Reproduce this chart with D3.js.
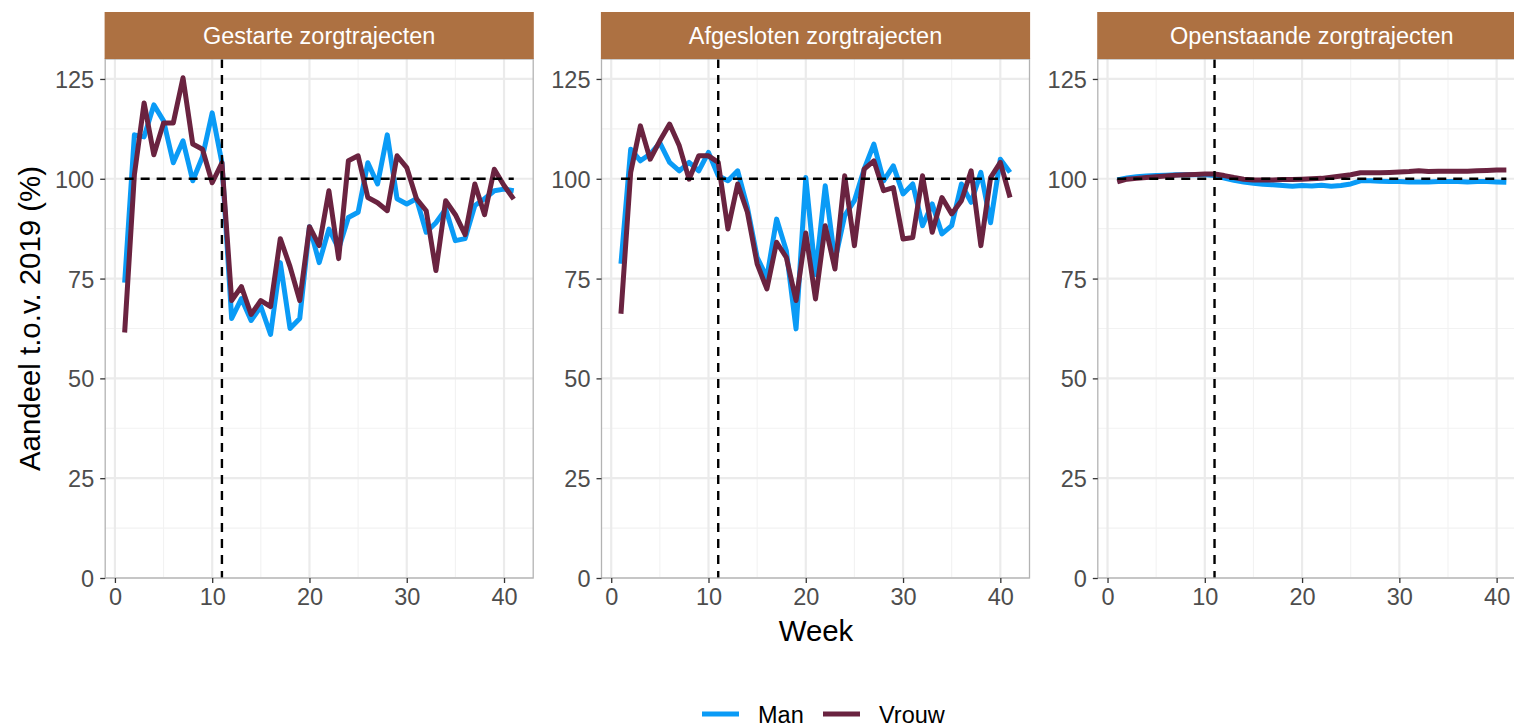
<!DOCTYPE html>
<html>
<head>
<meta charset="utf-8">
<script src="https://cdn.jsdelivr.net/npm/d3@7"></script>
<style>
  body { margin: 0; background: #fff; overflow: hidden; }
  svg { display: block; font-family: "Liberation Sans", Arial, sans-serif; }
</style>
</head>
<body>
<script>
// data
const weeks = [1,2,3,4,5,6,7,8,9,10,11,12,13,14,15,16,17,18,19,20,21,22,23,24,25,26,27,28,29,30,31,32,33,34,35,36,37,38,39,40,41];
const panelTitles = ["Gestarte zorgtrajecten", "Afgesloten zorgtrajecten", "Openstaande zorgtrajecten"];
const seriesNames = ["Man", "Vrouw"];
const yTicks = [0, 25, 50, 75, 100, 125];
const xTicks = [0, 10, 20, 30, 40];

const gestarteMan = [74,111,110.5,118.5,114.5,104,109.5,99.5,105.5,116.5,104,65,70,64.5,68,61,79,62.5,65,88,79,87.4,82.5,90.3,91.6,104,98.7,111,95,93.7,95,86.6,89,92.4,84.5,85,93.3,95,97,97.4,97];
const gestarteVrouw = [61.5,101,119,106,114,114,125.3,108.7,107.4,99,104,69.5,73,66,69.5,68,85,78,69.5,88,83.25,97,80,104.5,105.75,95.3,94,92,105.75,102.8,95,92,77,94.5,91,86,98.7,91,102.4,98.3,94.9];
const afgeslotenMan = [78.7,107.4,104.5,106.2,109,104.1,102,104.1,102,106.6,100.75,99.5,102,92.8,80.3,75.3,89.9,82,62.4,100.3,76,98.25,79.5,90.75,94.5,102.4,108.7,99.5,103.25,96.2,98.7,88.25,93.7,86.2,88.25,98.7,94.1,101.6,89,104.9,101.6];
const afgeslotenVrouw = [66.2,101.6,113.25,104.9,109.5,113.7,108.25,99.9,105.75,105.75,104.1,87.4,98.7,91.6,78.7,72.4,84.1,80.3,69.5,86.4,69.9,88.25,77.4,100.75,83.25,102.4,104.5,97,97.8,84.9,85.3,100.75,86.6,95.3,91.2,94.5,102,83.25,100.3,104.1,95.3];
const openstaandeMan = [99.7,100.2,100.5,100.7,100.8,100.9,101,101,101,101,100.8,100.2,99.6,99.2,98.9,98.6,98.5,98.3,98.1,98.3,98.2,98.4,98.1,98.3,98.7,99.5,99.5,99.4,99.3,99.3,99.2,99.2,99.2,99.3,99.3,99.3,99.2,99.3,99.3,99.2,99.1];
const openstaandeVrouw = [99.2,99.9,100.1,100.3,100.5,100.7,100.9,101,101.1,101.2,101.2,100.8,100.3,99.9,99.7,99.7,99.7,99.8,99.8,99.9,100,100.1,100.4,100.7,101,101.5,101.5,101.5,101.6,101.7,101.8,102,101.8,101.9,101.9,101.9,101.9,102,102.1,102.2,102.2];
const refWeek = 11;
const refValue = 100;

const panels = [
  { title: panelTitles[0], series: [gestarteMan, gestarteVrouw] },
  { title: panelTitles[1], series: [afgeslotenMan, afgeslotenVrouw] },
  { title: panelTitles[2], series: [openstaandeMan, openstaandeVrouw] }
];

const width = 1514, height = 726;
const colors = ["#0A9BF6", "#6A2340"];
const panelLeft = [105.2, 601.5, 1097.8];
const panelW = 428, panelTop = 59, panelBottom = 578, stripTop = 12;

const svg = d3.select("body").append("svg").attr("width", width).attr("height", height);

const y = d3.scaleLinear().domain([0, 130]).range([panelBottom, panelTop]);

panels.forEach(function (p, i) {
  const left = panelLeft[i];
  const x = d3.scaleLinear().domain([-1, 43]).range([left, left + panelW]);
  const g = svg.append("g");

  // grid
  const minorY = [12.5, 37.5, 62.5, 87.5, 112.5];
  const minorX = [5, 15, 25, 35];
  g.selectAll(".my").data(minorY).join("line")
    .attr("x1", left).attr("x2", left + panelW)
    .attr("y1", d => y(d)).attr("y2", d => y(d))
    .attr("stroke", "#F2F2F2").attr("stroke-width", 1.1);
  g.selectAll(".mx").data(minorX).join("line")
    .attr("x1", d => x(d)).attr("x2", d => x(d))
    .attr("y1", panelTop).attr("y2", panelBottom)
    .attr("stroke", "#F2F2F2").attr("stroke-width", 1.1);
  g.selectAll(".gy").data(yTicks).join("line")
    .attr("x1", left).attr("x2", left + panelW)
    .attr("y1", d => y(d)).attr("y2", d => y(d))
    .attr("stroke", "#EBEBEB").attr("stroke-width", 2.2);
  g.selectAll(".gx").data(xTicks).join("line")
    .attr("x1", d => x(d)).attr("x2", d => x(d))
    .attr("y1", panelTop).attr("y2", panelBottom)
    .attr("stroke", "#EBEBEB").attr("stroke-width", 2.2);

  // series lines
  const line = d3.line().x((d, j) => x(weeks[j])).y(d => y(d));
  p.series.forEach(function (s, k) {
    g.append("path").datum(s)
      .attr("d", line)
      .attr("fill", "none")
      .attr("stroke", colors[k])
      .attr("stroke-width", 5)
      .attr("stroke-linejoin", "round");
  });

  // reference lines
  g.append("line")
    .attr("x1", x(weeks[0])).attr("x2", x(weeks[weeks.length - 1]))
    .attr("y1", y(refValue)).attr("y2", y(refValue))
    .attr("stroke", "#000").attr("stroke-width", 2.4).attr("stroke-dasharray", "9,7");
  g.append("line")
    .attr("x1", x(refWeek)).attr("x2", x(refWeek))
    .attr("y1", panelTop).attr("y2", panelBottom)
    .attr("stroke", "#000").attr("stroke-width", 2.4).attr("stroke-dasharray", "9,7");

  // panel border
  g.append("rect")
    .attr("x", left).attr("y", panelTop).attr("width", panelW).attr("height", panelBottom - panelTop)
    .attr("fill", "none").attr("stroke", "#B3B3B3").attr("stroke-width", 1.3);

  // strip
  g.append("rect")
    .attr("x", left - 0.6).attr("y", stripTop).attr("width", panelW + 1.2).attr("height", panelTop - stripTop)
    .attr("fill", "#AD7142");
  g.append("text")
    .attr("x", left + panelW / 2).attr("y", (stripTop + panelTop) / 2 + 8)
    .attr("text-anchor", "middle").attr("fill", "#fff")
    .style("font-size", "23.5px")
    .text(p.title);

  // axes
  const yAxis = d3.axisLeft(y).tickValues(yTicks).tickSize(5).tickPadding(6);
  const ya = g.append("g").attr("transform", "translate(" + left + ",0)").call(yAxis);
  const xAxis = d3.axisBottom(x).tickValues(xTicks).tickSize(5).tickPadding(5);
  const xa = g.append("g").attr("transform", "translate(0," + panelBottom + ")").call(xAxis);
  [ya, xa].forEach(function (a) {
    a.select(".domain").remove();
    a.selectAll(".tick line").attr("stroke", "#333").attr("stroke-width", 1.3);
    a.selectAll(".tick text").attr("fill", "#4D4D4D").style("font-size", "23.5px")
      .attr("font-family", "Liberation Sans, Arial, sans-serif");
  });
  ya.selectAll(".tick text").attr("dy", "0.36em");
});

// axis titles
svg.append("text")
  .attr("x", 816).attr("y", 641)
  .attr("text-anchor", "middle").style("font-size", "29.4px").attr("fill", "#000")
  .text("Week");
svg.append("text")
  .attr("transform", "translate(40," + (panelTop + panelBottom) / 2 + ") rotate(-90)")
  .attr("text-anchor", "middle").style("font-size", "29.4px").attr("fill", "#000")
  .text("Aandeel t.o.v. 2019 (%)");

// legend
const legend = svg.append("g");
const legendX = [702, 823];
seriesNames.forEach(function (name, k) {
  legend.append("line")
    .attr("x1", legendX[k]).attr("x2", legendX[k] + 37)
    .attr("y1", 714).attr("y2", 714)
    .attr("stroke", colors[k]).attr("stroke-width", 5);
  legend.append("text")
    .attr("x", legendX[k] + 56).attr("y", 722.5)
    .style("font-size", "23.5px").attr("fill", "#000")
    .text(name);
});
</script>
</body>
</html>
